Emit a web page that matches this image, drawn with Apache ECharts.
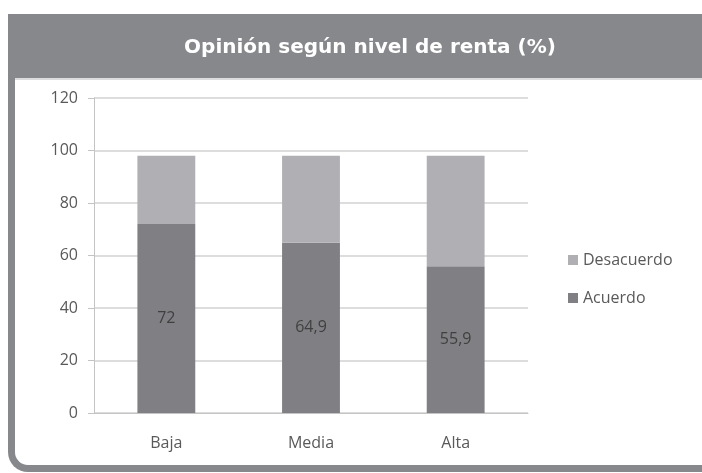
<!DOCTYPE html>
<html>
<head>
<meta charset="utf-8">
<script src="https://cdn.jsdelivr.net/npm/echarts@6/dist/echarts.min.js"></script>
<style>
  body { margin: 0; background: #fff; }
  #frame {
    position: absolute; left: 8px; top: 14px; width: 694px; height: 451px;
    border-left: 7px solid #87888c; border-bottom: 7px solid #87888c;
    border-bottom-left-radius: 20px; box-sizing: content-box;
  }
  #main { position: absolute; left: 0; top: 0; width: 702px; height: 473px; }
</style>
</head>
<body>
<div id="frame"></div>
<div id="main"></div>
<script>
// opinion by income level (%)
const categories = ["Baja", "Media", "Alta"];
const acuerdo = [72, 64.9, 55.9];
const desacuerdo = [26, 33.1, 42.1];
const yTicks = [0, 20, 40, 60, 80, 100, 120];

const labelFont = "'Open Sans', Lato, sans-serif";

let option = {
  animation: false,
  title: {
    text: "Opinión según nivel de renta (%)",
    left: 365,
    top: 33,
    textAlign: "center",
    textStyle: { color: "#fff", fontSize: 20, fontWeight: "bold", fontFamily: "'DejaVu Sans', sans-serif" },
  },
  graphic: [
    {
      // title band
      type: "rect",
      z: -1,
      shape: { x: 8, y: 14, width: 694, height: 64 },
      style: { fill: "#87888c" },
    },
    {
      type: "rect",
      z: -1,
      shape: { x: 15, y: 78, width: 687, height: 2 },
      style: { fill: "#dcdcde" },
    },
  ],
  legend: {
    orient: "vertical",
    left: 563,
    top: 247,
    itemWidth: 10,
    itemHeight: 10,
    itemGap: 22,
    icon: "rect",
    data: ["Desacuerdo", "Acuerdo"],
    textStyle: { color: "#595959", fontSize: 16, fontFamily: labelFont },
  },
  grid: { left: 94, right: 174, top: 98, bottom: 60 },
  xAxis: {
    type: "category",
    data: categories,
    axisLine: { lineStyle: { color: "#c4c4c4" } },
    axisTick: { length: 7, lineStyle: { color: "#c4c4c4" } },
    axisLabel: { color: "#595959", fontSize: 16, margin: 22, fontFamily: labelFont },
  },
  yAxis: {
    type: "value",
    min: yTicks[0],
    max: yTicks[yTicks.length - 1],
    interval: 20,
    axisLine: { show: true, lineStyle: { color: "#c4c4c4" } },
    axisTick: { show: true, length: 6, inside: false, lineStyle: { color: "#c4c4c4" } },
    axisLabel: { color: "#595959", fontSize: 16, margin: 16, fontFamily: labelFont },
    splitLine: { lineStyle: { color: "#d2d2d2", width: 1.5 } },
  },
  series: [
    {
      name: "Acuerdo",
      type: "bar",
      stack: "total",
      barWidth: "40%",
      data: acuerdo,
      itemStyle: { color: "#808084" },
      label: {
        show: true,
        position: "inside",
        color: "#3f3f3f",
        fontSize: 16,
        fontFamily: labelFont,
        formatter: (p) => String(p.value).replace(".", ","),
      },
    },
    {
      name: "Desacuerdo",
      type: "bar",
      stack: "total",
      data: desacuerdo,
      itemStyle: { color: "#b0b0b4" },
    },
  ],
};

var myChart = echarts.init(document.getElementById("main"));
myChart.setOption(option);
</script>
</body>
</html>
